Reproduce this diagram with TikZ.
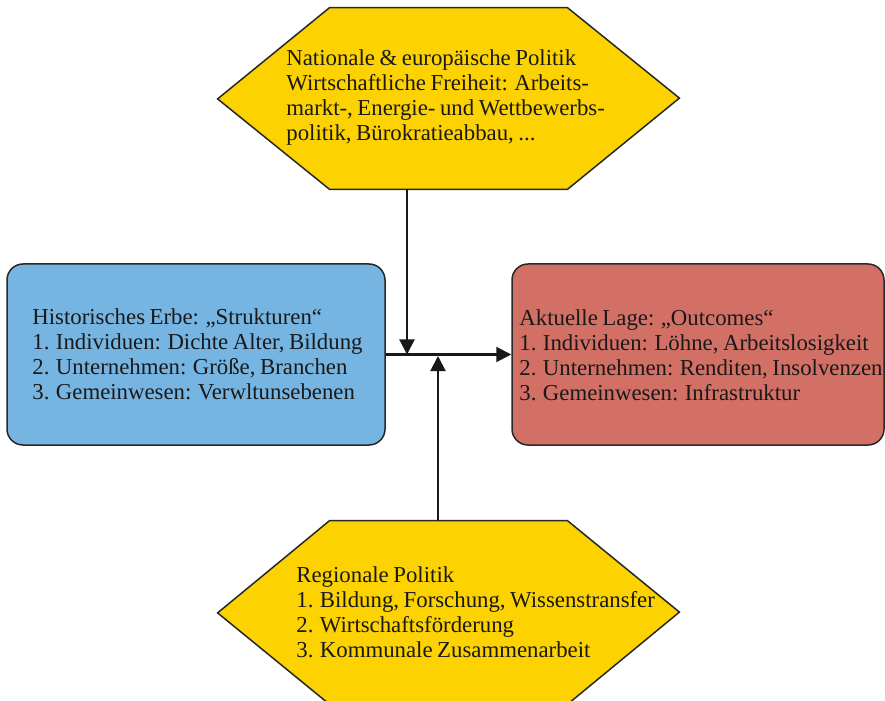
\documentclass[tikz,border=0pt]{standalone}
\usepackage{fontspec}
\setmainfont{Liberation Serif}[WordSpace=0.8]
\usetikzlibrary{arrows.meta}
\definecolor{histblue}{RGB}{118,181,226}
\definecolor{lagered}{RGB}{210,112,102}
\definecolor{polyellow}{RGB}{252,210,0}
\definecolor{edgegray}{RGB}{40,40,40}
\begin{document}
\begin{tikzpicture}[x=0.5pt,y=-0.5pt,
    box/.style={shape=rectangle,rounded corners=8pt,draw=edgegray,line width=0.75pt,minimum height=90.5pt,inner sep=0pt},
    flat/.style={shape=rectangle,minimum width=118.5pt,minimum height=90.5pt,inner sep=0pt},
    hex/.style={fill=polyellow,draw=edgegray,line width=0.75pt,line join=miter},
    txt/.style={anchor=north west,inner sep=0pt,align=left,text=black!90,font=\fontsize{11.4}{12.5}\selectfont},
    arr/.style={draw=black!90,line width=1pt,-{Triangle[length=7.5pt,width=7.5pt]}}]
            \useasboundingbox (0,0) rectangle (885,701);
            \node (hist) at (196,354.5) [box,fill=histblue,minimum width=189pt] {};
            \node (lage) at (698,354.5) [box,fill=lagered,minimum width=186pt] {};
            \node (nat) at (448.5,98.5) [flat] {};
            \node (reg) at (448.5,612.5) [flat,minimum height=91.5pt] {};
            \filldraw[hex] (nat.north west) -- (nat.north east) -- ++(112,90.5) -- (nat.south east)
                -- (nat.south west) -- ++(-112,-90.5) -- cycle;
            \filldraw[hex] (reg.north west) -- (reg.north east) -- ++(112,91.5) -- (reg.south east)
                -- (reg.south west) -- ++(-112,-91.5) -- cycle;
            \node (nattext) at (286,49.5) [txt] {Nationale \& europäische Politik\\Wirtschaftliche Freiheit: Arbeits-\\markt-, Energie- und Wettbewerbs-\\politik, Bürokratieabbau, ...};
            \node (histtext) at (32,308.5) [txt] {Historisches Erbe: „Strukturen“\\1. Individuen: Dichte Alter, Bildung\\2. Unternehmen: Größe, Branchen\\3. Gemeinwesen: Verwltunsebenen};
            \node (lagetext) at (519,309.5) [txt] {Aktuelle Lage: „Outcomes“\\1. Individuen: Löhne, Arbeitslosigkeit\\2. Unternehmen: Renditen, Insolvenzen\\3. Gemeinwesen: Infrastruktur};
            \node (regtext) at (296,566.5) [txt] {Regionale Politik\\1. Bildung, Forschung, Wissenstransfer\\2. Wirtschaftsförderung\\3. Kommunale Zusammenarbeit};
            \coordinate (join) at (407,354.5);
            \coordinate (rise) at (438,356);
            \draw[arr] (nat.south -| join)--(join);
            \draw[arr] (hist.east)--(lage.west);
            \draw[arr] (reg.north -| rise)--(rise);
        \end{tikzpicture}
\end{document}
